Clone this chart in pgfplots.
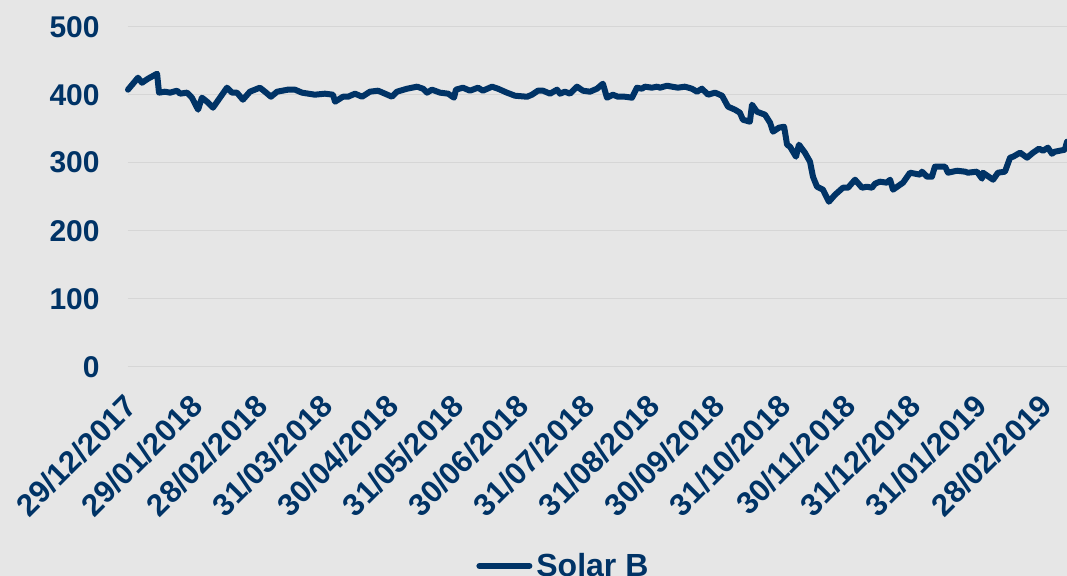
\documentclass[border=0pt]{standalone}
\usepackage{fontspec}
\setmainfont{Liberation Sans}
\usepackage{pgfplots}
\usepackage{pgfplotstable}
\pgfplotsset{compat=1.18}
\definecolor{navy}{RGB}{0,51,102}
\definecolor{bg}{RGB}{230,230,230}
\definecolor{gridc}{RGB}{214,214,214}

\pgfplotstableread{
d v
0 407.4
4.7 425
6.6 417.6
9.4 423.5
13.7 430.9
14.6 403
17.4 404.4
19.8 403
23.1 405.9
24.5 401.5
27.8 403
30.1 395.6
33.0 378
34.8 395.6
37.2 389.7
40.0 380.9
43.3 395.6
46.6 410.3
49.0 403
51.3 403
54.1 392.6
57.4 404.4
62.1 410.3
64.5 404.4
67.3 397
70.2 404.4
75.3 407.4
78.6 407.4
81.9 403
88.0 400
92.7 401.5
96.5 400
97.5 389.7
101.2 397
103.6 397
106.9 401.5
110.2 397
113.9 404.4
117.7 405.9
121.0 401.5
124.3 397
126.6 404.4
131.4 408.8
136.1 411.8
138.9 408.8
140.8 403
143.1 407.4
146.9 403
150.7 401.5
153.5 395.6
154.4 407.4
157.7 410.3
161.0 405.9
164.8 410.3
167.1 405.9
171.4 411.8
174.2 408.8
178.4 403
182.2 398.5
187.9 397
190.2 400
193.0 405.9
195.4 405.9
198.7 401.5
202.0 407.4
203.4 401.5
205.7 404.4
208.1 401.5
211.4 411.8
214.2 405.9
217.5 404.4
220.8 408.8
223.6 416.2
225.5 395.6
228.3 400
230.7 397
234.0 397
237.3 395.6
239.6 410.3
242.0 408.8
243.4 411.8
246.7 410.3
249.1 411.8
250.5 410.3
253.8 413.2
256.1 411.8
258.9 410.3
262.2 411.8
265.5 408.8
267.9 404.4
270.2 408.8
273.1 400
276.4 403
279.7 398.5
282.5 382.4
285.8 377.9
288.1 373.5
289.5 363.2
292.8 360.3
293.8 385.3
296.1 375
299.9 370.6
302.3 358.8
303.7 345.6
306.5 351.5
308.9 352.9
310.3 326.5
311.7 323.5
314.5 308.8
315.9 326.5
318.7 314.7
321.1 301.5
322.5 279.4
324.4 264.7
327.2 260.3
330.0 242.6
332.9 252.9
336.6 263.2
339.0 263.2
342.3 275
345.6 263.2
347.9 264.7
350.3 263.2
351.7 269.1
354.0 272.1
357.3 270.6
358.8 275
360.2 260.3
363.5 267.6
364.9 270.6
368.2 285.3
372.9 282.4
373.8 286.8
376.2 279.4
378.5 279.4
379.9 294.1
384.7 294.1
386.1 285.3
390.3 288.2
394.1 286.8
395.5 285.3
399.7 286.8
402.1 276.5
402.5 285.3
407.3 275
409.6 285.3
412.9 286.8
415.3 307.4
416.7 308.8
420.0 314.7
423.3 307.4
426.1 314.7
428.9 320.6
430.8 317.6
433.1 322.1
435.0 313.2
436.4 316.2
441.1 319.1
442.1 330.9
}\solarb

\begin{document}
\begin{tikzpicture}
\fill[bg] (-64pt,-104.65pt) rectangle (469.5pt,183.35pt);
\begin{axis}[
  at={(0pt,0pt)}, anchor=south west,
  scale only axis, width=469.5pt, height=170pt,
  xmin=0, xmax=442.1, ymin=0, ymax=500,
  ytick={0,100,200,300,400,500},
  xtick={0,30.77,61.54,92.31,123.08,153.85,184.62,215.38,246.15,276.92,307.69,338.46,369.23,400,430.77},
  xticklabels={29/12/2017,29/01/2018,28/02/2018,31/03/2018,30/04/2018,31/05/2018,30/06/2018,31/07/2018,31/08/2018,30/09/2018,31/10/2018,30/11/2018,31/12/2018,31/01/2019,28/02/2019},
  ymajorgrids, grid style={gridc, line width=0.75pt},
  axis line style={draw=none}, major tick length=0pt,
  tick label style={font=\bfseries\fontsize{15}{18}\selectfont, text=navy},
  /pgf/number format/assume math mode=true,
  yticklabel style={anchor=east, inner sep=0pt, xshift=-14pt},
  xticklabel style={xshift=-2.5pt, yshift=-12.6pt, rotate=45, anchor=north east, inner sep=0pt,
    font=\bfseries\fontsize{15.5}{18}\selectfont},
  clip=false,
  legend style={at={(axis description cs:0.3706,-0.586)}, anchor=west, draw=none, fill=none, inner sep=0pt,
    font=\bfseries\fontsize{16}{19}\selectfont, text=navy},
  legend image code/.code={\draw[#1, line cap=round] (0pt,0pt) -- (25pt,0pt);},
]
\addplot[navy, line width=3pt, line join=round, line cap=round] table[x=d, y=v] {\solarb};
\addlegendentry{Solar B}
\end{axis}
\pgfresetboundingbox
\useasboundingbox (-64pt,-104.65pt) rectangle (469.5pt,183.35pt);
\end{tikzpicture}
\end{document}
